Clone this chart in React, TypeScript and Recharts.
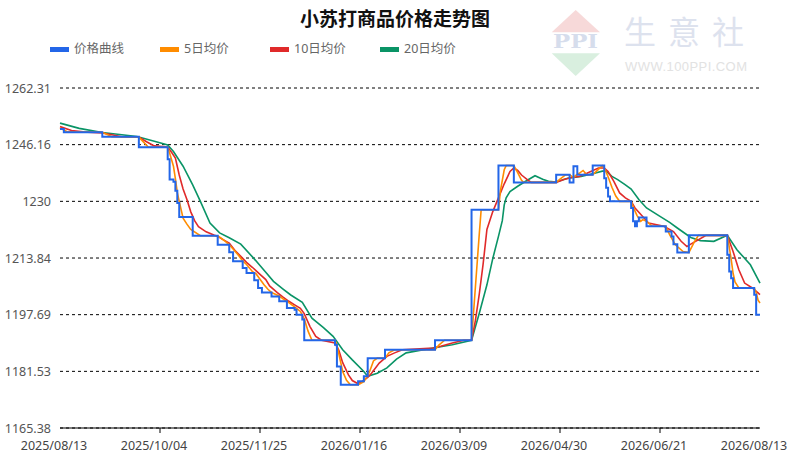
import React from "react";
import { LineChart, Line, XAxis, YAxis, CartesianGrid } from "recharts";

// 横轴：距 2025/08/13 的天数
const xTickDays = [0, 52, 104, 156, 208, 260, 312, 364];
const xTickLabels = [
  "2025/08/13",
  "2025/10/04",
  "2025/11/25",
  "2026/01/16",
  "2026/03/09",
  "2026/04/30",
  "2026/06/21",
  "2026/08/13",
];
const yTicks = [1165.38, 1181.53, 1197.69, 1213.84, 1230, 1246.16, 1262.31];

// 价格曲线（阶梯）[天, 价格]
const priceSteps: [number, number][] = [
  [0, 1250.6], [2, 1249.7], [22, 1248.4], [41, 1245.4], [56, 1242.0], [57, 1236.2],
  [59, 1235.6], [60, 1233.0], [61, 1229.5], [62, 1225.5], [69, 1220.2], [82, 1217.6],
  [88, 1215.5], [90, 1212.9], [95, 1211.0], [97, 1209.6], [101, 1207.5], [103, 1205.3],
  [105, 1204.0], [110, 1202.9], [114, 1201.5], [118, 1199.6], [122, 1199.1], [123, 1197.7],
  [126, 1196.3], [127, 1190.4], [143, 1189.1], [144, 1182.9], [146, 1177.7], [155, 1178.7],
  [158, 1180.1], [160, 1185.3], [169, 1187.7], [195, 1190.4], [214, 1227.6], [228, 1240.2],
  [236, 1235.4], [258, 1237.6], [265, 1235.4], [267, 1240.0], [269, 1237.6], [277, 1240.2],
  [283, 1236.6], [284, 1233.9], [285, 1231.4], [286, 1230.0], [297, 1228.1], [298, 1224.3],
  [299, 1222.9], [300, 1224.3], [301, 1225.4], [305, 1222.9], [315, 1221.4], [318, 1220.0],
  [319, 1217.8], [321, 1215.4], [327, 1220.3], [347, 1214.8], [348, 1210.0], [349, 1208.1],
  [350, 1205.3], [361, 1203.4], [362, 1197.69], [364, 1197.69],
];

// 5日均价
const ma5Points: [number, number][] = [
  [0, 1250.9], [4, 1249.8], [22, 1249.7], [27, 1248.4], [41, 1248.3], [46, 1245.4],
  [56, 1245.4], [57, 1243.8], [59, 1240], [60, 1236.5], [61, 1232.5], [62, 1230],
  [64, 1225.2], [66, 1223.5], [68, 1222], [73, 1220.2], [82, 1220.2], [84, 1219.4],
  [86, 1218.6], [88, 1217.6], [90, 1216.4], [93, 1214.5], [95, 1213], [97, 1212],
  [100, 1210], [102, 1209.3], [104, 1207.8], [106, 1206.3], [108, 1205], [110, 1204],
  [114, 1203], [116, 1202.2], [119, 1201.1], [123, 1199.5], [125, 1198.6], [127, 1196.5],
  [129, 1193], [131, 1190.4], [143, 1190.4], [144, 1189], [145, 1186.5], [147, 1181.5],
  [149, 1179], [151, 1177.7], [155, 1177.7], [156, 1178], [158, 1178.6], [160, 1180.3],
  [161, 1181.5], [163, 1184.5], [165, 1185.3], [169, 1185.3], [171, 1186.8], [174, 1187.7],
  [195, 1187.7], [197, 1189], [200, 1190.4], [214, 1190.4], [215, 1198], [216, 1205.5],
  [217, 1213], [218, 1220.5], [219, 1227.6], [228, 1227.6], [229, 1233], [230, 1236],
  [231, 1239], [232, 1240.2], [236, 1240.2], [237, 1239.2], [238, 1238.2], [240, 1236],
  [241, 1235.4], [258, 1235.4], [260, 1236.3], [263, 1237.6], [265, 1237.6], [266, 1237.2],
  [267, 1236.8], [268, 1237.3], [270, 1238], [272, 1238.8], [274, 1237.6], [277, 1237.6],
  [279, 1238.6], [282, 1240.2], [283, 1239.6], [285, 1237], [287, 1234], [289, 1231.5],
  [291, 1230], [297, 1230], [298, 1228.5], [300, 1226], [302, 1224.3], [303, 1224.8],
  [305, 1224.3], [308, 1222.9], [315, 1222.9], [317, 1220.5], [320, 1217.6], [324, 1215.7],
  [327, 1215.4], [330, 1218.6], [332, 1220.3], [347, 1220.3], [348, 1217], [349, 1213.5],
  [350, 1209.5], [351, 1207], [353, 1205.3], [361, 1205.3], [362, 1204], [363, 1201.8],
  [364, 1201],
];

// 10日均价
const ma10Points: [number, number][] = [
  [0, 1251.3], [6, 1250.2], [12, 1249.8], [22, 1249.5], [27, 1249], [32, 1248.4],
  [41, 1248.3], [45, 1247], [49, 1245.8], [56, 1245.5], [58, 1244], [60, 1242.3],
  [62, 1237.5], [64, 1233.5], [66, 1230.5], [68, 1227], [70, 1224.5], [72, 1222.8],
  [76, 1221.3], [80, 1220.4], [82, 1220], [85, 1219], [88, 1218.1], [91, 1216],
  [94, 1214.3], [97, 1212.6], [100, 1211.2], [104, 1209.2], [107, 1207.7], [109, 1205.9],
  [113, 1204], [116, 1202.7], [119, 1201.5], [122, 1200.5], [125, 1199.5], [127, 1198],
  [130, 1194.3], [133, 1191.5], [136, 1190.4], [143, 1189.6], [145, 1187.5], [147, 1184],
  [150, 1180.5], [152, 1178.9], [155, 1178], [157, 1178.6], [160, 1179.8], [162, 1181],
  [166, 1183.9], [170, 1185.8], [174, 1186.8], [178, 1187.7], [194, 1188.2], [198, 1188.7],
  [204, 1189.6], [210, 1190.4], [214, 1190.4], [216, 1196], [218, 1203.5], [220, 1212],
  [222, 1222], [225, 1227], [228, 1231], [231, 1235], [234, 1238.5], [236, 1239.5],
  [238, 1238.8], [240, 1237.5], [243, 1236.2], [245, 1235.4], [258, 1235.4], [262, 1236.2],
  [266, 1236.8], [270, 1237.1], [274, 1238], [280, 1239.5], [283, 1239.5], [285, 1238.5],
  [288, 1235.7], [291, 1232.4], [294, 1231], [297, 1230], [299, 1228.1], [303, 1225.7],
  [306, 1223.8], [314, 1222.9], [319, 1221.4], [323, 1218.6], [326, 1217.1], [328, 1217.8],
  [336, 1220.3], [347, 1220.3], [350, 1215.7], [353, 1210.5], [356, 1206.7], [360, 1205.3],
  [364, 1203.4],
];

// 20日均价
const ma20Points: [number, number][] = [
  [0, 1252.3], [10, 1250.8], [22, 1249.6], [40, 1248.5], [50, 1247], [56, 1246.1],
  [59, 1244.2], [64, 1240], [69, 1234.7], [73, 1230], [78, 1223.8], [83, 1221],
  [88, 1219.6], [94, 1217.8], [101, 1213.6], [107, 1209.8], [111, 1207.2], [116, 1205],
  [120, 1203.3], [126, 1201.2], [131, 1196.7], [137, 1194], [142, 1191.5], [147, 1187.7],
  [152, 1184.8], [158, 1181.5], [160, 1180.1], [165, 1181], [170, 1182.5], [175, 1185],
  [180, 1186.8], [194, 1188.2], [204, 1189.1], [214, 1190.4], [218, 1198], [222, 1206.2],
  [225, 1213.6], [228, 1220], [230, 1224.5], [231, 1229], [232, 1231], [234, 1232.8],
  [238, 1234.3], [243, 1236], [247, 1237.3], [251, 1236.3], [254, 1235.7], [258, 1235.5],
  [264, 1236.6], [271, 1237.1], [278, 1238], [282, 1238.6], [284, 1238.6], [287, 1237.1],
  [290, 1236.2], [294, 1234.7], [297, 1233.5], [301, 1230.5], [305, 1228.1], [312, 1225.7],
  [317, 1224], [321, 1222.4], [328, 1219.7], [333, 1218.8], [340, 1218.6], [347, 1220.3],
  [352, 1216.2], [359, 1211.9], [364, 1206.7],
];

const toRows = (pts: [number, number][]) => pts.map(([d, v]) => ({ d, v }));

const series = [
  { name: "价格曲线", color: "#2366e8", rows: toRows(priceSteps), type: "stepAfter", width: 2 },
  { name: "5日均价", color: "#ff8c00", rows: toRows(ma5Points), type: "linear", width: 1.6 },
  { name: "10日均价", color: "#e02a2a", rows: toRows(ma10Points), type: "linear", width: 1.6 },
  { name: "20日均价", color: "#0a9466", rows: toRows(ma20Points), type: "linear", width: 1.6 },
];

const FONT = "'Noto Sans', 'Noto Sans CJK SC', sans-serif";
const legendX = [50, 160, 270, 380];

const fmtY = (v: number) => String(Number(v.toFixed(2)));

const XTick = (props: any) => {
  const { x, payload } = props;
  const i = xTickDays.indexOf(payload.value);
  const inner = i > 0 && i < xTickDays.length - 1;
  return (
    <g>
      {inner && <line x1={x} x2={x} y1={428} y2={433} stroke="#000" strokeWidth={1} />}
      <text x={x - 6} y={450} textAnchor="middle" fontSize={12.5} fill="#444" fontFamily={FONT}>
        {xTickLabels[i]}
      </text>
    </g>
  );
};

const YTick = (props: any) => {
  const { y, payload } = props;
  return (
    <text x={51} y={y + 4.5} textAnchor="end" fontSize={12.5} fill="#555" fontFamily={FONT}>
      {fmtY(payload.value)}
    </text>
  );
};

const Watermark = () => (
  <svg width={790} height={85} style={{ position: "absolute", left: 0, top: 0 }}>
    <polygon points="575.7,10 551.7,32.3 600,32.3" fill="#f7d9d9" />
    <text x={553} y={48} fontSize={18} fontWeight="bold"
      fontFamily="'DejaVu Serif', serif" fill="#d6ddec" textLength={45} lengthAdjust="spacingAndGlyphs">
      PPI
    </text>
    <polygon points="551.7,53.3 600,53.3 575.7,76" fill="#d9efdf" />
    <text x={624} y={44} fontSize={32} fontFamily="'Noto Sans CJK SC', sans-serif"
      fill="#dde2ee" letterSpacing={12}>
      生意社
    </text>
    <text x={625} y={70.5} fontSize={13} fontFamily="'Liberation Sans', Arial, sans-serif"
      fill="#e2e2e2" textLength={122}>
      WWW.100PPI.COM
    </text>
  </svg>
);

export default function App() {
  return (
    <div style={{ position: "absolute", left: 0, top: 0, width: 790, height: 458, background: "#fff", fontFamily: FONT }}>
      <Watermark />
      <div style={{ position: "absolute", left: 0, width: 790, top: 6, textAlign: "center", fontSize: 19, fontWeight: "bold", color: "#111", lineHeight: "26px" }}>
        小苏打商品价格走势图
      </div>
      {series.map((s, i) => (
        <div key={s.name} style={{ position: "absolute", left: legendX[i], top: 40, height: 18, display: "flex", alignItems: "center" }}>
          <span style={{ display: "inline-block", width: 19, height: 5, background: s.color, marginRight: 5 }} />
          <span style={{ fontSize: 12.5, color: "#666", lineHeight: "18px" }}>{s.name}</span>
        </div>
      ))}
      <div style={{ position: "absolute", left: 0, top: 0 }}>
        <LineChart width={790} height={458} margin={{ top: 88, right: 30, bottom: 0, left: 0 }}>
          <CartesianGrid vertical={false} stroke="#000" strokeDasharray="3 3" />
          <XAxis
            type="number"
            dataKey="d"
            domain={[0, 364]}
            ticks={xTickDays}
            interval={0}
            height={30}
            axisLine={{ stroke: "#000", strokeWidth: 1.2 }}
            tickLine={false}
            tick={<XTick />}
            allowDuplicatedCategory={false}
          />
          <YAxis
            type="number"
            domain={[1165.38, 1262.31]}
            ticks={yTicks}
            interval={0}
            width={60}
            axisLine={false}
            tickLine={false}
            tick={<YTick />}
            allowDataOverflow
          />
          {series.slice().reverse().map((s) => (
            <Line
              key={s.name}
              data={s.rows}
              dataKey="v"
              type={s.type as any}
              stroke={s.color}
              strokeWidth={s.width}
              dot={false}
              activeDot={false}
              isAnimationActive={false}
            />
          ))}
        </LineChart>
      </div>
    </div>
  );
}
